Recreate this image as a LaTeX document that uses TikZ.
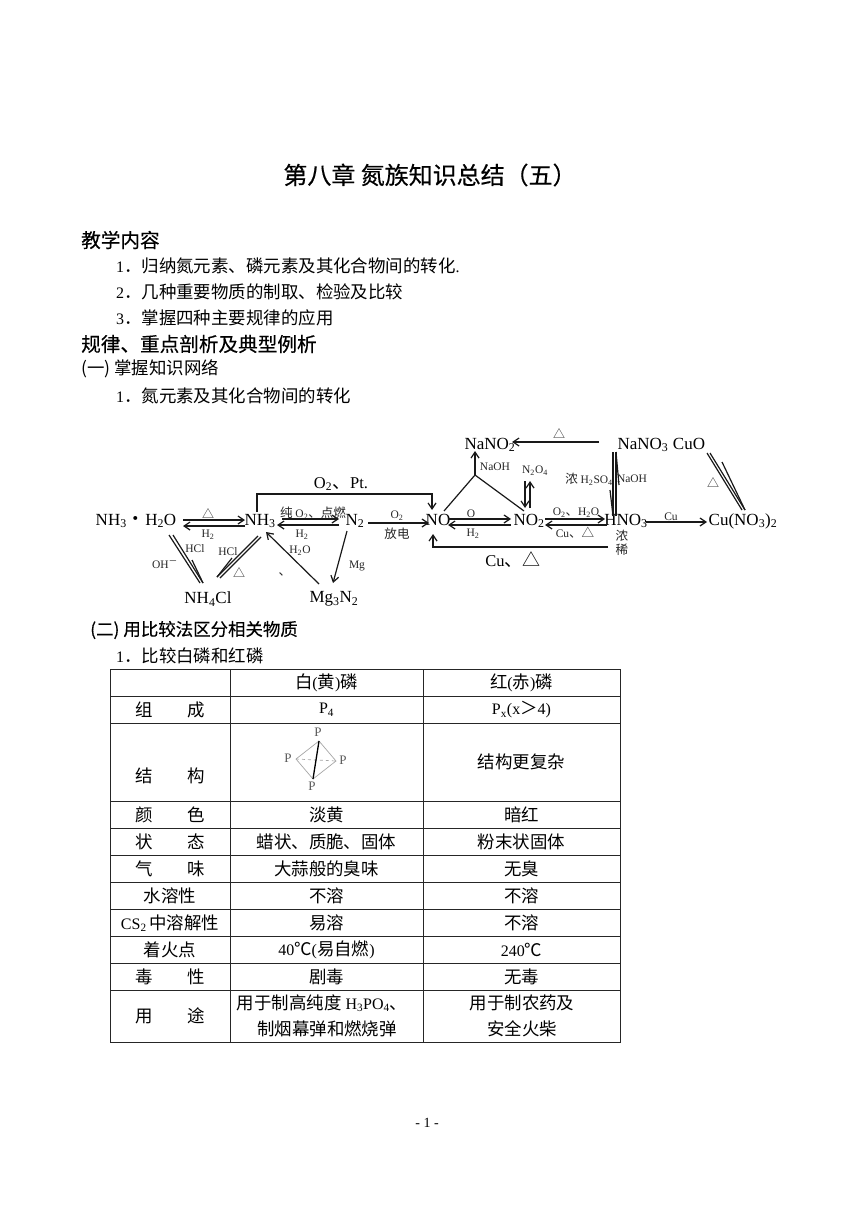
\documentclass[tikz,border=0pt]{standalone}
\usepackage{fontspec}
\setmainfont{Liberation Serif}
\newfontfamily\cjk{Noto Sans CJK SC}[Scale=1.09]
\newfontfamily\cjkm{Noto Sans CJK SC}[Scale=1.09,FakeBold=0.35]
\usetikzlibrary{arrows.meta}
\newcommand\zh[1]{{\cjk #1}}
\newcommand\hz[1]{{\cjkm #1}}
\newcommand\dn[1]{\textsubscript{#1}}
\tikzset{
 lab/.style={inner sep=0pt,font=\fontsize{11.5pt}{13pt}\selectfont,text=black!85},
 lab2/.style={inner sep=0pt,font=\fontsize{11pt}{13pt}\selectfont,text=black!85},
 chem/.style={inner sep=0pt,font=\fontsize{17pt}{19pt}\selectfont},
 big/.style={inner sep=0pt,font=\fontsize{16.5pt}{19pt}\selectfont},
 body/.style={inner sep=0pt,anchor=west,font=\fontsize{16pt}{18pt}\selectfont},
 head/.style={inner sep=0pt,anchor=west,font=\fontsize{18pt}{20pt}\selectfont},
 sub/.style={inner sep=0pt,anchor=west,font=\fontsize{16pt}{18pt}\selectfont},
 cell/.style={inner sep=0pt,font=\fontsize{16pt}{18pt}\selectfont},
 tp/.style={inner sep=0pt,font=\fontsize{13pt}{15pt}\selectfont,text=black!65},
 arr/.style={-{Straight Barb[length=6pt,width=8pt]},line width=1.2pt,black!90},
 lin/.style={line width=1.2pt,black!90},
 grid/.style={line width=1pt,black!85},
 tetra/.style={line width=.7pt,black!35},
}
\begin{document}
\begin{tikzpicture}[x=1pt,y=-1pt]
\useasboundingbox (0,0) rectangle (860,1214);
\fill[white] (0,0) rectangle (860,1214);
% Headings
\node[inner sep=0pt,font=\fontsize{22pt}{24pt}\selectfont] (title) at (430,175) {\hz{第八章 氮族知识总结（五）}};
\node[head] (h1) at (81,240) {\hz{教学内容}};
\node[body] (l1) at (116,266) {1\zh{．归纳氮元素、磷元素及其化合物间的转化}.};
\node[body] (l2) at (116,292) {2\zh{．几种重要物质的制取、检验及比较}};
\node[body] (l3) at (116,318) {3\zh{．掌握四种主要规律的应用}};
\node[head] (h2) at (81,344) {\hz{规律、重点剖析及典型例析}};
\node[sub] (h3) at (81,369) {\zh{(一)\hspace{4pt}掌握知识网络}};
\node[body] (l4) at (116,396) {1\zh{．氮元素及其化合物间的转化}};
\node[sub] (h4) at (90,630) {\hz{(二)\hspace{4pt}用比较法区分相关物质}};
\node[body] (l5) at (116,656) {1\zh{．比较白磷和红磷}};
\node[inner sep=0pt,font=\fontsize{14pt}{16pt}\selectfont] (foot) at (427,1123) {- 1 -};
% Chemistry nodes
\node[chem] (nh3w) at (136,521) {NH\dn{3}\zh{·}H\dn{2}O};
\node[chem] (nh3) at (260,521) {NH\dn{3}};
\node[chem] (n2) at (355,521) {N\dn{2}};
\node[chem] (no) at (438,520) {NO};
\node[chem] (no2) at (529,521) {NO\dn{2}};
\node[chem] (hno3) at (626,521) {HNO\dn{3}};
\node[chem] (cuno) at (743,521) {Cu(NO\dn{3})\dn{2}};
\node[chem] (nano2) at (490,445) {NaNO\dn{2}};
\node[chem] (nano3) at (643,445) {NaNO\dn{3}};
\node[chem] (cuo) at (689,444) {CuO};
\node[chem] (nh4cl) at (208,599) {NH\dn{4}Cl};
\node[chem] (mg3n2) at (334,599) {Mg\dn{3}N\dn{2}};
% Labels
\node[big] (t1) at (341,484) {O\dn{2}\zh{、}Pt.};
\node[lab2] (t2) at (208,514) {\zh{△}};
\node[lab] (t3) at (208,535) {H\dn{2}};
\node[lab] (t4) at (195,549) {HCl};
\node[lab] (t5) at (165,565) {OH\textsuperscript{\zh{－}}};
\node[lab] (t6) at (228,552) {HCl};
\node[lab2] (t7) at (239,573) {\zh{△}};
\node[lab] (t8) at (313,513) {\zh{纯} O\dn{2}\zh{、点燃}};
\node[lab] (t9) at (302,535) {H\dn{2}};
\node[lab] (t10) at (300,551) {H\dn{2}O};
\node[lab] (t11) at (285,574) {\zh{、}};
\node[lab] (t12) at (357,566) {Mg};
\node[lab] (t13) at (397,516) {O\dn{2}};
\node[lab] (t14) at (397,534) {\zh{放电}};
\node[lab] (t15) at (471,514) {O};
\node[lab] (t16) at (473,534) {H\dn{2}};
\node[lab] (t17) at (495,467) {NaOH};
\node[lab] (t18) at (535,471) {N\dn{2}O\dn{4}};
\node[lab2] (t19) at (559,434) {\zh{△}};
\node[lab] (t20) at (589,479) {\zh{浓} H\dn{2}SO\dn{4}};
\node[lab] (t21) at (632,479) {NaOH};
\node[lab] (t22) at (576,513) {O\dn{2}\zh{、}H\dn{2}O};
\node[lab] (t23) at (575,533) {Cu\zh{、△}};
\node[lab] (t24) at (671,517) {Cu};
\node[lab] (t25) at (622,536) {\zh{浓}};
\node[lab] (t26) at (622,550) {\zh{稀}};
\node[big] (t27) at (513,560) {Cu\zh{、△}};
\node[lab2] (t28) at (713,483) {\zh{△}};
% Connector ends
\foreach \n/\x/\y in {
 a1/183/520,a2/245/520,a3/245/526,a4/183/526,
 b1/282/519,b2/339/519,b3/339/525,b4/277/525,
 c1/368/523,c2/429/523,
 d1/257/512,d2/257/494,d3/432/494,d4/432/510,
 e1/169/535,e2/200/583,e3/173/535,e4/203/583,e5/192/560,
 f1/258/536,f2/217/577,f3/261/537,f4/220/578,f5/232/558,
 g1/319/584,g2/266/532,h1b/347/531,h2b/333/583,
 i1/448/519,i2/511/519,i3/511/525,i4/448/525,
 j1/545/519,j2/605/519,j3/607/525,j4/545/525,
 k1/646/522,k2/707/522,
 m1/599/442,m2/512/442,
 n1/444/511,n2/475/475,n3/524/511,n4/475/451,
 o1/525/481,o2/525/508,o3/530/508,o4/530/481,
 p1/613/452,p2/613/516,p3/616/516,p4/616/452,p5/610/490,p6/619/485,
 q1/608/547,q2/433/547,q3/433/534,
 r1/707/453,r2/742/510,r3/710/453,r4/745/510,r5/722/462}
 {\coordinate (\n) at (\x,\y);}
% Connectors
\draw[arr] (a1) -- (a2);
\draw[arr] (a3) -- (a4);
\draw[arr] (b1) -- (b2);
\draw[arr] (b3) -- (b4);
\draw[arr] (c1) -- (c2);
\draw[arr] (d1) -- (d2) -- (d3) -- (d4);
\draw[lin] (e1) -- (e2);
\draw[lin] (e3) -- (e4);
\draw[lin] (e5) -- (e4);
\draw[lin] (f1) -- (f2);
\draw[lin] (f3) -- (f4);
\draw[lin] (f5) -- (f2);
\draw[arr] (g1) -- (g2);
\draw[arr] (h1b) -- (h2b);
\draw[arr] (i1) -- (i2);
\draw[arr] (i3) -- (i4);
\draw[arr] (j1) -- (j2);
\draw[arr] (j3) -- (j4);
\draw[arr] (k1) -- (k2);
\draw[arr] (m1) -- (m2);
\draw[lin] (n1) -- (n2) -- (n3);
\draw[arr] (n2) -- (n4);
\draw[arr] (o1) -- (o2);
\draw[arr] (o3) -- (o4);
\draw[lin] (p1) -- (p2);
\draw[lin] (p3) -- (p4);
\draw[lin] (p5) -- (p2);
\draw[lin] (p6) -- (p4);
\draw[arr] (q1) -- (q2) -- (q3);
\draw[lin] (r1) -- (r2);
\draw[lin] (r3) -- (r4);
\draw[lin] (r5) -- (r4);
% Table
\draw[grid] (110,669) rectangle (620.5,1042);
\foreach \y in {696,723,801,828,855,882,909,936,963,990} \draw[grid] (110,\y) -- (620.5,\y);
\draw[grid] (230,669) -- (230,1042);
\draw[grid] (423,669) -- (423,1042);
\foreach \n/\y/\a/\b/\c in {
 r1/683/{}/\zh{白}(\zh{黄})\zh{磷}/\zh{红}(\zh{赤})\zh{磷},
 r2/710/\zh{组\hspace{2em}成}/P\dn{4}/P\dn{x}(x\zh{＞}4),
 r3/776/\zh{结\hspace{2em}构}/{}/{},
 r4/815/\zh{颜\hspace{2em}色}/\zh{淡黄}/\zh{暗红},
 r5/842/\zh{状\hspace{2em}态}/\zh{蜡状、质脆、固体}/\zh{粉末状固体},
 r6/869/\zh{气\hspace{2em}味}/\zh{大蒜般的臭味}/\zh{无臭},
 r7/896/\zh{水溶性}/\zh{不溶}/\zh{不溶},
 r8/923/CS\dn{2}\,\zh{中溶解性}/\zh{易溶}/\zh{不溶},
 r9/950/\zh{着火点}/40\zh{℃}(\zh{易自燃})/240\zh{℃},
 r10/977/\zh{毒\hspace{2em}性}/\zh{剧毒}/\zh{无毒},
 r11/1016/\zh{用\hspace{2em}途}/{}/{}}
{\node[cell] (\n a) at (170,\y) {\a};
 \node[cell] (\n b) at (326.5,\y) {\b};
 \node[cell] (\n c) at (521.5,\y) {\c};}
\node[cell] (s3) at (521.5,762) {\zh{结构更复杂}};
\node[cell] (u1) at (322,1003) {\zh{用于制高纯度} H\dn{3}PO\dn{4}\zh{、}};
\node[cell] (u2) at (327,1029) {\zh{制烟幕弹和燃烧弹}};
\node[cell] (u3) at (522,1003) {\zh{用于制农药及}};
\node[cell] (u4) at (522,1029) {\zh{安全火柴}};
% Tetrahedron
\node[tp] (pt) at (318,732) {P};
\node[tp] (pl) at (288,758) {P};
\node[tp] (pr) at (343,760) {P};
\node[tp] (pb) at (312,786) {P};
\coordinate (vt) at (319,741);
\coordinate (vl) at (296,759);
\coordinate (vr) at (336,761);
\coordinate (vb) at (313,779);
\draw[tetra] (vt) -- (vl) -- (vb) -- (vr) -- cycle;
\draw[tetra,dash pattern=on 3pt off 3pt] (vl) -- (vr);
\draw[line width=1.3pt] (vt) -- (vb);
\end{tikzpicture}
\end{document}
